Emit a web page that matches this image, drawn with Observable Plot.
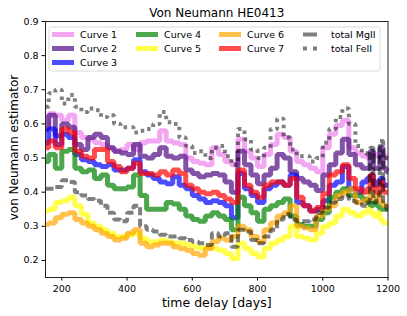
<!DOCTYPE html>
<html>
<head>
<meta charset="utf-8">
<script src="https://cdn.jsdelivr.net/npm/d3@7"></script>
<script src="https://cdn.jsdelivr.net/npm/@observablehq/plot@0.6"></script>
<style>
  html, body { margin: 0; padding: 0; background: white; }
  #chart { width: 407px; height: 316px; }
</style>
</head>
<body>
<div id="chart"></div>
<script>
const title = "Von Neumann HE0413";
const xLabel = "time delay [days]";
const yLabel = "von Neumann estimator";
const xTicks = [200, 400, 600, 800, 1000, 1200];
const yTicks = [0.2, 0.3, 0.4, 0.5, 0.6, 0.7, 0.8, 0.9];

const days = [150,170,190,210,230,250,270,290,310,330,350,370,390,410,430,450,470,490,510,530,550,570,590,610,630,650,670,690,710,730,750,770,790,810,830,850,870,890,910,930,950,970,990,1010,1030,1050,1070,1090,1110,1130,1140,1150,1160,1170,1180,1190,1200];

const curve1 = [0.585,0.63,0.625,0.61,0.625,0.575,0.56,0.555,0.545,0.54,0.53,0.52,0.525,0.54,0.525,0.545,0.55,0.55,0.58,0.55,0.545,0.54,0.50,0.49,0.485,0.48,0.53,0.51,0.49,0.48,0.555,0.52,0.50,0.475,0.51,0.54,0.57,0.56,0.52,0.49,0.48,0.47,0.46,0.53,0.57,0.595,0.61,0.53,0.515,0.505,0.50,0.51,0.505,0.51,0.515,0.505,0.50];
const curve2 = [0.585,0.625,0.565,0.60,0.59,0.54,0.525,0.56,0.57,0.56,0.53,0.52,0.515,0.51,0.54,0.505,0.50,0.51,0.53,0.505,0.50,0.505,0.465,0.455,0.445,0.45,0.455,0.45,0.43,0.40,0.52,0.48,0.45,0.425,0.45,0.47,0.51,0.50,0.46,0.44,0.43,0.42,0.405,0.45,0.48,0.515,0.555,0.51,0.48,0.47,0.47,0.52,0.47,0.47,0.53,0.47,0.46];
const curve3 = [0.545,0.585,0.54,0.57,0.56,0.51,0.495,0.49,0.48,0.475,0.48,0.465,0.465,0.47,0.495,0.46,0.45,0.44,0.43,0.425,0.445,0.42,0.41,0.39,0.38,0.37,0.375,0.37,0.36,0.325,0.455,0.41,0.39,0.37,0.41,0.42,0.43,0.42,0.45,0.37,0.36,0.345,0.35,0.375,0.42,0.43,0.475,0.41,0.40,0.43,0.44,0.45,0.42,0.43,0.44,0.42,0.42];
const curve4 = [0.49,0.51,0.47,0.52,0.525,0.47,0.46,0.465,0.44,0.45,0.42,0.41,0.41,0.415,0.45,0.39,0.35,0.35,0.35,0.37,0.365,0.35,0.33,0.32,0.315,0.33,0.34,0.33,0.32,0.29,0.385,0.36,0.34,0.315,0.35,0.36,0.37,0.38,0.33,0.305,0.30,0.30,0.32,0.34,0.385,0.40,0.41,0.39,0.39,0.38,0.37,0.36,0.37,0.36,0.35,0.35,0.35];
const curve5 = [0.345,0.35,0.37,0.375,0.385,0.36,0.335,0.31,0.30,0.29,0.28,0.27,0.27,0.275,0.28,0.265,0.255,0.255,0.26,0.255,0.25,0.25,0.245,0.24,0.235,0.24,0.235,0.23,0.22,0.205,0.25,0.235,0.22,0.21,0.235,0.25,0.26,0.27,0.30,0.27,0.265,0.26,0.28,0.30,0.31,0.33,0.35,0.34,0.33,0.34,0.35,0.34,0.33,0.34,0.32,0.31,0.31];
const curve6 = [0.305,0.31,0.325,0.335,0.34,0.32,0.31,0.30,0.29,0.28,0.27,0.26,0.265,0.28,0.29,0.25,0.24,0.245,0.25,0.25,0.24,0.235,0.23,0.22,0.215,0.235,0.255,0.265,0.26,0.27,0.30,0.29,0.27,0.255,0.29,0.31,0.33,0.34,0.36,0.30,0.295,0.29,0.33,0.35,0.36,0.39,0.40,0.41,0.37,0.375,0.38,0.40,0.38,0.39,0.37,0.36,0.36];
const curve7 = [0.53,0.55,0.53,0.585,0.575,0.52,0.505,0.50,0.525,0.525,0.49,0.475,0.46,0.47,0.485,0.455,0.455,0.45,0.46,0.45,0.465,0.455,0.42,0.41,0.40,0.395,0.40,0.39,0.38,0.37,0.465,0.42,0.40,0.385,0.42,0.43,0.43,0.42,0.44,0.385,0.36,0.345,0.355,0.395,0.45,0.46,0.48,0.44,0.41,0.40,0.41,0.45,0.41,0.40,0.43,0.40,0.40];
const totalMgII = [0.41,0.41,0.415,0.435,0.43,0.40,0.39,0.38,0.375,0.36,0.34,0.32,0.315,0.34,0.36,0.30,0.29,0.285,0.275,0.27,0.27,0.265,0.26,0.255,0.25,0.245,0.28,0.27,0.28,0.24,0.29,0.285,0.26,0.25,0.27,0.29,0.32,0.335,0.32,0.315,0.315,0.32,0.34,0.355,0.37,0.38,0.39,0.375,0.37,0.36,0.37,0.53,0.37,0.39,0.55,0.36,0.35];
const totalFeII = [0.65,0.69,0.70,0.66,0.685,0.65,0.635,0.645,0.64,0.62,0.625,0.60,0.59,0.59,0.575,0.58,0.585,0.60,0.635,0.605,0.60,0.56,0.535,0.515,0.52,0.50,0.53,0.535,0.505,0.48,0.585,0.555,0.525,0.50,0.53,0.585,0.615,0.56,0.525,0.505,0.505,0.49,0.50,0.545,0.585,0.62,0.645,0.60,0.535,0.515,0.51,0.51,0.51,0.505,0.50,0.50,0.50];

const series = [
  {name: "Curve 1", values: curve1, color: "violet", alpha: 0.7, dash: null, width: 5},
  {name: "Curve 2", values: curve2, color: "#5a1a8a", alpha: 0.75, dash: null, width: 5},
  {name: "Curve 3", values: curve3, color: "blue", alpha: 0.7, dash: null, width: 5},
  {name: "Curve 4", values: curve4, color: "green", alpha: 0.7, dash: null, width: 5},
  {name: "Curve 5", values: curve5, color: "yellow", alpha: 0.7, dash: null, width: 5},
  {name: "Curve 6", values: curve6, color: "orange", alpha: 0.7, dash: null, width: 5},
  {name: "Curve 7", values: curve7, color: "red", alpha: 0.7, dash: null, width: 5},
  {name: "total MgII", values: totalMgII, color: "black", alpha: 0.5, dash: "8,3.5", width: 4},
  {name: "total FeII", values: totalFeII, color: "black", alpha: 0.5, dash: "3.5,4.5", width: 4}
];

const lineMarks = series.map(s => Plot.line(days.map((d, i) => ({day: d, v: s.values[i]})), {
  x: "day", y: "v", curve: "step",
  stroke: s.color, strokeOpacity: s.alpha, strokeWidth: s.width,
  strokeDasharray: s.dash, strokeLinejoin: "miter", strokeLinecap: "butt"
}));

const plot = Plot.plot({
  width: 407, height: 316,
  marginLeft: 45, marginRight: 19.5, marginTop: 21, marginBottom: 39,
  style: {fontFamily: "DejaVu Sans, sans-serif", fontSize: "9.5px", background: "white", color: "black"},
  x: {domain: [150, 1200], ticks: xTicks, tickSize: 3.5, tickPadding: 4, label: null, tickFormat: d3.format("d")},
  y: {domain: [0.15, 0.9], ticks: yTicks, tickSize: 3.5, tickPadding: 3.5, label: null, tickFormat: d3.format(".1f")},
  marks: [
    ...lineMarks,
    Plot.frame({stroke: "#222", strokeWidth: 1}),
    Plot.text([title], {frameAnchor: "top", lineAnchor: "middle", textAnchor: "middle", dy: -8.8, fontSize: 12, fill: "black"}),
    Plot.text([xLabel], {frameAnchor: "bottom", lineAnchor: "middle", textAnchor: "middle", dy: 25.3, fontSize: 12.5, fill: "black"}),
    Plot.text([yLabel], {frameAnchor: "left", lineAnchor: "middle", textAnchor: "middle", dx: -31.3, dy: -2, rotate: -90, fontSize: 12, fill: "black"})
  ]
});

// legend (matplotlib style, 4 columns)
const svg = d3.select(plot);
const lg = svg.append("g")
  .attr("font-family", "DejaVu Sans, sans-serif")
  .attr("font-size", "9.5px")
  .attr("text-anchor", "start");
const box = {x: 49, y: 27, w: 331, h: 44};
lg.append("rect").attr("x", box.x).attr("y", box.y).attr("width", box.w).attr("height", box.h)
  .attr("rx", 2.5).attr("fill", "white").attr("fill-opacity", 0.8).attr("stroke", "#d0d0d0").attr("stroke-width", 0.8);
const colX = [52, 136, 219, 303];
const rowY = [34.5, 48.5, 62.5];
const perCol = [3, 2, 2, 2];
let idx = 0;
perCol.forEach((n, c) => {
  for (let r = 0; r < n; r++) {
    const s = series[idx++];
    lg.append("line").attr("x1", colX[c]).attr("x2", colX[c] + (c === 3 ? 20 : 22))
      .attr("y1", rowY[r]).attr("y2", rowY[r])
      .attr("stroke", s.color).attr("stroke-opacity", s.alpha).attr("stroke-width", s.width)
      .attr("stroke-dasharray", s.dash === null ? null : (r === 0 ? "14,6" : "4,6"));
    lg.append("text").attr("x", colX[c] + 28).attr("y", rowY[r]).attr("dy", "0.35em")
      .attr("text-anchor", "start").attr("fill", "black").text(s.name);
  }
});

document.getElementById("chart").appendChild(plot);
</script>
</body>
</html>
